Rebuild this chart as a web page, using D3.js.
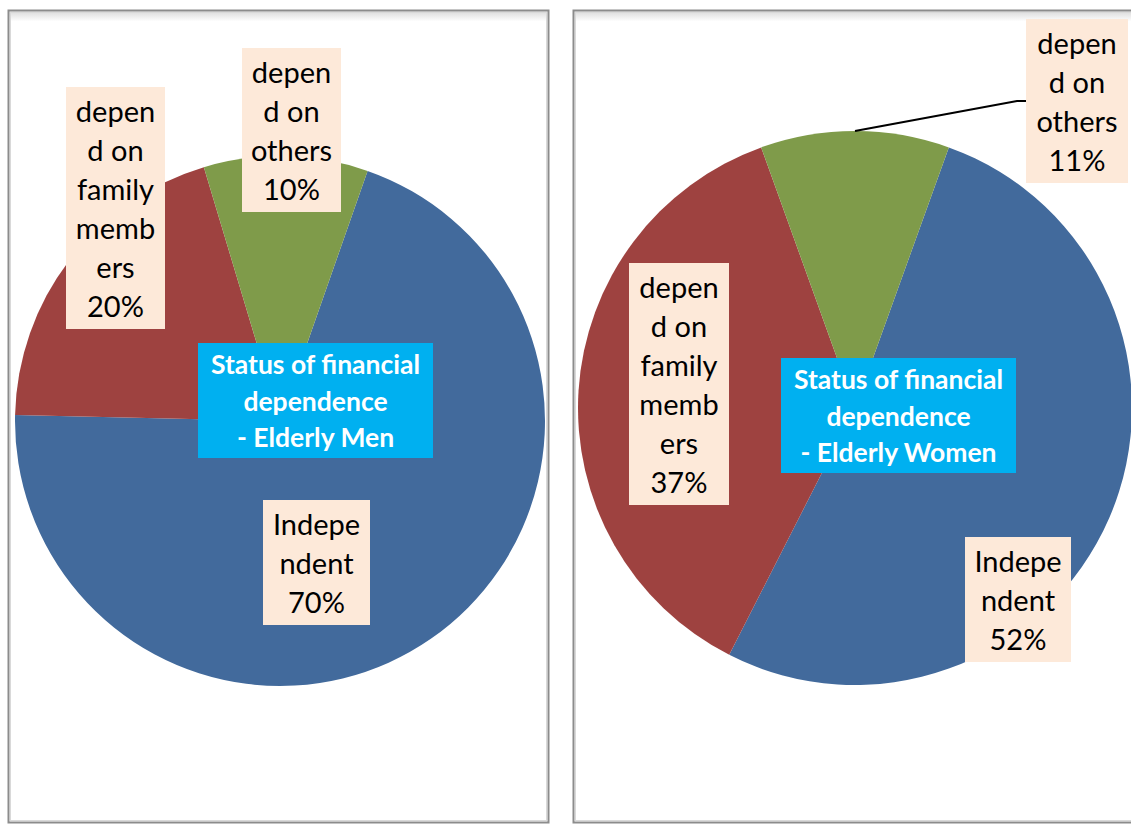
<!DOCTYPE html>
<html>
<head>
<meta charset="utf-8">
<script src="https://cdn.jsdelivr.net/npm/d3@7"></script>
<style>
  html, body { margin: 0; padding: 0; background: #fff; }
  svg { display: block; }
</style>
</head>
<body>
<div id="chart"></div>
<script>
// Status of financial dependence – two pies, men vs women

const categories = ['Independent', 'depend on family members', 'depend on others'];
const menValues = [70, 20, 10];
const womenValues = [52, 37, 11];
// label text as it wraps in the original boxes (percentage appended from values)
const labelLines = [['Indepe', 'ndent'], ['depen', 'd on', 'family', 'memb', 'ers'], ['depen', 'd on', 'others']];
const menTitle = ['Status of financial', 'dependence', '- Elderly Men'];
const womenTitle = ['Status of financial', 'dependence', '- Elderly Women'];

const colors = ['#426a9c', '#9e4240', '#7f9b4a'];

const W = 1131, H = 825;
const svg = d3.select('#chart').append('svg').attr('width', W).attr('height', H);

const defs = svg.append('defs');
const grad = defs.append('linearGradient').attr('id', 'topShade').attr('x1', 0).attr('y1', 0).attr('x2', 0).attr('y2', 1);
grad.append('stop').attr('offset', '0%').attr('stop-color', '#dcdcdc');
grad.append('stop').attr('offset', '100%').attr('stop-color', '#ffffff');

const panels = [
  {
    x: 8.5, y: 10.5, w: 540, h: 812,
    values: menValues, title: menTitle,
    cx: 280, cy: 421, r: 265, start: 19.3,
    titleBox: { x: 198, y: 343, w: 235, h: 115 },
    boxes: [
      { x: 263, y: 500, w: 107 },
      { x: 66, y: 87, w: 99 },
      { x: 242, y: 48, w: 99 }
    ],
    leader: null
  },
  {
    x: 573.5, y: 10.5, w: 570, h: 812,
    values: womenValues, title: womenTitle,
    cx: 855, cy: 408, r: 277, start: 19.8,
    titleBox: { x: 781, y: 358, w: 235, h: 115 },
    boxes: [
      { x: 965, y: 537, w: 106 },
      { x: 629, y: 263, w: 100 },
      { x: 1026, y: 19, w: 102 }
    ],
    leader: 2
  }
];

const lineH = 39;

panels.forEach(p => {
  const g = svg.append('g');

  // chart area frame
  g.append('rect').attr('x', p.x).attr('y', p.y).attr('width', p.w).attr('height', p.h)
    .attr('fill', '#fff');
  g.append('rect').attr('x', p.x + 1).attr('y', p.y + 1).attr('width', p.w - 2).attr('height', 10)
    .attr('fill', 'url(#topShade)');
  g.append('rect').attr('x', p.x + 2).attr('y', p.y + 2).attr('width', p.w - 4).attr('height', p.h - 4)
    .attr('fill', 'none').attr('stroke', '#d9d9d9').attr('stroke-width', 1);
  g.append('rect').attr('x', p.x).attr('y', p.y).attr('width', p.w).attr('height', p.h)
    .attr('fill', 'none').attr('stroke', '#8c8c8c').attr('stroke-width', 2);

  // pie
  const start = p.start * Math.PI / 180;
  const pie = d3.pie().sort(null).value(d => d)
    .startAngle(start).endAngle(start + 2 * Math.PI);
  const arcs = pie(p.values);
  const arc = d3.arc().innerRadius(0).outerRadius(p.r);

  const pieG = g.append('g').attr('transform', `translate(${p.cx},${p.cy})`);
  pieG.selectAll('path')
    .data(arcs)
    .join('path')
    .attr('d', arc)
    .attr('fill', (d, i) => colors[i]);

  // leader line for the small slice label
  if (p.leader !== null) {
    const a = arcs[p.leader];
    const mid = (a.startAngle + a.endAngle) / 2;
    const sx = p.cx + p.r * Math.sin(mid);
    const sy = p.cy - p.r * Math.cos(mid);
    const b = p.boxes[p.leader];
    const n = labelLines[p.leader].length + 1;
    const by = b.y + (n * lineH + 8) / 2;
    g.append('polyline')
      .attr('points', [[sx, sy], [b.x - 9, by], [b.x, by]].map(q => q.join(',')).join(' '))
      .attr('fill', 'none').attr('stroke', '#000').attr('stroke-width', 2.2);
  }

  // data labels
  p.boxes.forEach((b, i) => {
    const lines = labelLines[i].concat([p.values[i] + '%']);
    const h = lines.length * lineH + 8;
    const lg = g.append('g');
    lg.append('rect').attr('x', b.x).attr('y', b.y).attr('width', b.w).attr('height', h)
      .attr('fill', '#fde9d9');
    lg.selectAll('text')
      .data(lines)
      .join('text')
      .attr('x', b.x + b.w / 2)
      .attr('y', (d, k) => b.y + 35 + k * lineH)
      .attr('text-anchor', 'middle')
      .attr('font-family', 'Lato, "Open Sans", sans-serif')
      .attr('font-size', '29px')
      .attr('fill', '#000')
      .text(d => d);
  });

  // title box
  const t = p.titleBox;
  g.append('rect').attr('x', t.x).attr('y', t.y).attr('width', t.w).attr('height', t.h)
    .attr('fill', '#00b0f0');
  g.selectAll('text.title')
    .data(p.title)
    .join('text')
    .attr('class', 'title')
    .attr('x', t.x + t.w / 2)
    .attr('y', (d, k) => t.y + 31 + k * 36.5)
    .attr('text-anchor', 'middle')
    .attr('font-family', 'Lato, "Open Sans", sans-serif')
    .attr('font-weight', 'bold')
    .attr('font-size', '26.5px')
    .attr('fill', '#fff')
    .text(d => d);
});
</script>
</body>
</html>
